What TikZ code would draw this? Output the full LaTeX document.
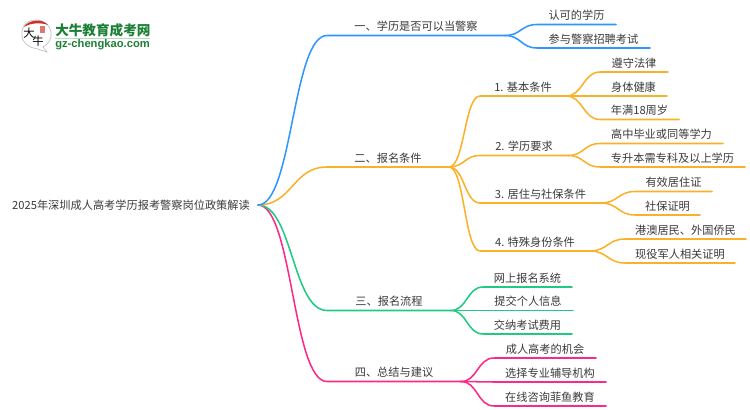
\documentclass[tikz,border=0pt]{standalone}
\usepackage{fontspec}
\usetikzlibrary{calc}
\setmainfont{Noto Sans CJK SC}
\newfontfamily\latinlogo{Liberation Sans}
\definecolor{cblue}{HTML}{2E96FF}
\definecolor{corange}{HTML}{FBB02A}
\definecolor{cgreen}{HTML}{1FCB84}
\definecolor{cpink}{HTML}{FB2A87}
\definecolor{ctext}{HTML}{3A3A3A}
\definecolor{logogreen}{HTML}{1C7F36}
\definecolor{logored}{HTML}{C8302A}
\tikzset{
  lab/.style={inner sep=0pt,outer sep=0pt,anchor=south,minimum height=13.5pt,text=ctext,font=\fontsize{8.4pt}{10pt}\selectfont},
  wire/.style={line width=1.15pt,line cap=round},
}
% \lbl{name}{x1}{x2}{y}{text}
\newcommand{\lbl}[5]{\node[lab,minimum width={(#3-#2)*0.75pt}] (#1) at ({(#2+#3)/2},#4) {#5};}
% \conn{colour}{from coordinate}{to node}
\newcommand{\conn}[3]{%
  \coordinate (mid) at ($(#2)!0.5!(#3.south west)$);
  \draw[wire,#1] (#2) .. controls (mid |- #2) and (mid |- #3.south west) .. (#3.south west) -- (#3.south east);}
\begin{document}
\begin{tikzpicture}[x=0.75pt,y=-0.75pt]
\useasboundingbox (0,0) rectangle (750,410);
% logo
\draw[line width=0.5pt,draw=black!25,fill=white] (36,20) .. controls (24,20) and (21,30) .. (22,36) .. controls (23,44) and (30,48) .. (36,48.5) -- (47,52) -- (43,47) .. controls (49,44) and (52,38) .. (51,32) .. controls (50,25) and (44,20) .. (36,20) -- cycle;
\fill[logored] (24,27) .. controls (28,20) and (42,18) .. (48,25) .. controls (42,22.5) and (31,22.5) .. (24,27) -- cycle;
\fill[logored,opacity=0.65] (39.5,26) rectangle (44.5,33);
\node[inner sep=0pt] (logoda) at (29,33) {\fontsize{8.5pt}{9pt}\selectfont 大};
\node[inner sep=0pt] (logoniu) at (38,41.5) {\fontsize{8.5pt}{9pt}\selectfont 牛};
\node[inner sep=0pt,anchor=west,text=logogreen] (logoa) at (55,30) {\fontsize{10.2pt}{11pt}\selectfont\bfseries 大牛教育成考网};
\draw[logogreen!30,line width=0.5pt] (55,38.5) -- (150,38.5);
\node[inner sep=0pt,anchor=west,text=logogreen] (logob) at (55,45) {\latinlogo\fontsize{8.4pt}{9pt}\selectfont\bfseries gz-chengkao.com};

% root
\node[inner sep=0pt,text=ctext,font=\fontsize{8.4pt}{10pt}\selectfont] (root) at (131,205) {2025年深圳成人高考学历报考警察岗位政策解读};
\coordinate (r) at (258,205);

% level 1
\lbl{a}{327}{505}{35.5}{一、学历是否可以当警察}
\lbl{b}{327}{449}{167}{二、报名条件}
\lbl{c}{327}{451}{310.5}{三、报名流程}
\lbl{d}{327}{461}{381.5}{四、总结与建议}
% level 2 under b
\lbl{b1}{480}{566}{96}{1. 基本条件}
\lbl{b2}{480}{568}{155.5}{2. 学历要求}
\lbl{b3}{480}{601}{203}{3. 居住与社保条件}
\lbl{b4}{480}{590}{251}{4. 特殊身份条件}
% leaves
\lbl{a1}{537}{616}{24.5}{认可的学历}
\lbl{a2}{537}{650}{48}{参与警察招聘考试}
\lbl{b11}{600}{668}{72}{遵守法律}
\lbl{b12}{600}{667}{96}{身体健康}
\lbl{b13}{600}{679}{119.5}{年满18周岁}
\lbl{b21}{600}{723}{143.5}{高中毕业或同等学力}
\lbl{b22}{600}{745}{167}{专升本需专科及以上学历}
\lbl{b31}{635}{712}{191.5}{有效居住证}
\lbl{b32}{635}{700}{215}{社保证明}
\lbl{b41}{625}{746}{239}{港澳居民、外国侨民}
\lbl{b42}{625}{735}{263}{现役军人相关证明}
\lbl{c1}{483}{572}{287}{网上报名系统}
\lbl{c2}{483}{573}{310.5}{提交个人信息}
\lbl{c3}{483}{572}{334}{交纳考试费用}
\lbl{d1}{494}{596}{358}{成人高考的机会}
\lbl{d2}{494}{606}{382}{选择专业辅导机构}
\lbl{d3}{494}{606}{406}{在线咨询菲鱼教育}
% junctions
\coordinate (ja) at (a.south east);
\coordinate (jb) at (b.south east);
\coordinate (jc) at (c.south east);
\coordinate (jd) at (d.south east);
\coordinate (jb1) at (b1.south east);
\coordinate (jb2) at (b2.south east);
\coordinate (jb3) at (b3.south east);
\coordinate (jb4) at (b4.south east);
% connectors
\conn{cpink}{r}{d}
\conn{cgreen}{r}{c}
\conn{corange}{r}{b}
\conn{cblue}{r}{a}
\conn{cblue}{ja}{a1}
\conn{cblue}{ja}{a2}
\conn{corange}{jb}{b1}
\conn{corange}{jb}{b2}
\conn{corange}{jb}{b3}
\conn{corange}{jb}{b4}
\conn{corange}{jb1}{b11}
\conn{corange}{jb1}{b12}
\conn{corange}{jb1}{b13}
\conn{corange}{jb2}{b21}
\conn{corange}{jb2}{b22}
\conn{corange}{jb3}{b31}
\conn{corange}{jb3}{b32}
\conn{corange}{jb4}{b41}
\conn{corange}{jb4}{b42}
\conn{cgreen}{jc}{c1}
\conn{cgreen}{jc}{c2}
\conn{cgreen}{jc}{c3}
\conn{cpink}{jd}{d1}
\conn{cpink}{jd}{d2}
\conn{cpink}{jd}{d3}
\end{tikzpicture}
\end{document}
